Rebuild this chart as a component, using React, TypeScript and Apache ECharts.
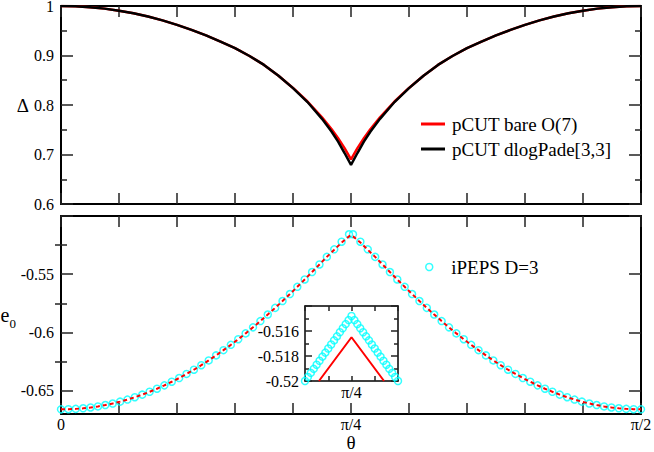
import React, { useEffect, useRef } from "react";
import * as echarts from "echarts";

const FONT = "'Liberation Serif', 'Times New Roman', Times, serif";

// ---------- Top panel: gap Δ(θ), read on 0..π/4 (degrees), symmetric about π/4
const gapThetaDeg = [
  0, 2.25, 4.5, 6.75, 9, 11.25, 13.5, 15.75, 18, 20.25, 22.5, 24.75, 27, 29.25, 31.5, 33.75, 36,
  38.25, 40.5, 42, 43, 44, 45,
];
const gapBareO7 = [
  1.0, 0.9994, 0.9976, 0.9947, 0.9905, 0.9852, 0.9787, 0.971, 0.9618, 0.9518, 0.9405, 0.928,
  0.915, 0.899, 0.881, 0.859, 0.8345, 0.807, 0.775, 0.751, 0.733, 0.713, 0.69,
];
const gapDlogPade = [
  1.0, 0.9994, 0.9976, 0.9947, 0.9905, 0.9852, 0.9787, 0.971, 0.9618, 0.9518, 0.9405, 0.928,
  0.915, 0.899, 0.881, 0.859, 0.834, 0.806, 0.772, 0.746, 0.726, 0.703, 0.679,
];

// ---------- Bottom panel: ground-state energy e0(θ), θ in rad on 0..π/4, symmetric about π/4
const e0Theta = [
  0, 0.02, 0.04, 0.06, 0.08, 0.1, 0.12, 0.14, 0.16, 0.18,
  0.2, 0.22, 0.24, 0.26, 0.28, 0.3, 0.32, 0.34, 0.36, 0.38,
  0.4, 0.42, 0.44, 0.46, 0.48, 0.5, 0.52, 0.54, 0.56, 0.58,
  0.6, 0.62, 0.64, 0.66, 0.68, 0.7, 0.72, 0.74, 0.76, 0.78,
];
const e0Ipeps = [
  -0.666, -0.6659, -0.6656, -0.6651, -0.6644, -0.6635, -0.6623, -0.661, -0.6594, -0.6576,
  -0.6556, -0.6534, -0.6509, -0.6483, -0.6454, -0.6423, -0.6391, -0.6356, -0.632, -0.6281,
  -0.624, -0.6197, -0.6152, -0.6106, -0.6058, -0.6008, -0.5956, -0.5902, -0.5846, -0.5789,
  -0.573, -0.567, -0.5608, -0.5545, -0.5481, -0.5416, -0.5351, -0.5286, -0.5221, -0.5157,
];
const e0Pcut = [
  -0.666, -0.6659, -0.6656, -0.6651, -0.6644, -0.6635, -0.6623, -0.661, -0.6594, -0.6576,
  -0.6556, -0.6534, -0.6509, -0.6483, -0.6454, -0.6423, -0.6391, -0.6356, -0.632, -0.6281,
  -0.624, -0.6197, -0.6152, -0.6106, -0.6058, -0.6008, -0.5956, -0.5902, -0.5846, -0.5789,
  -0.573, -0.567, -0.5608, -0.5545, -0.5481, -0.5416, -0.5351, -0.529, -0.5228, -0.5175,
];
const e0PcutCusp = -0.5165;

// ---------- Inset: zoom on the cusp, θ given as offset from π/4 (rad)
const insetOffset = [
  -0.02, -0.01875, -0.0175, -0.01625, -0.015, -0.01375, -0.0125, -0.01125, -0.01,
  -0.00875, -0.0075, -0.00625, -0.005, -0.00375, -0.0025, -0.00125, 0,
];
const insetIpeps = [
  -0.52, -0.51968, -0.51935, -0.51903, -0.5187, -0.51838, -0.51805, -0.51773, -0.5174,
  -0.51708, -0.51675, -0.51643, -0.5161, -0.51578, -0.51545, -0.51513, -0.5148,
];
const insetPcutOffset = [-0.014, 0, 0.014];
const insetPcut = [-0.52, -0.5165, -0.52];

// ---------- Tick labels
const thetaTickLabels: Record<number, string> = { 0: "0", 5: "π/4", 10: "π/2" };
const e0MajorTicks = [-0.65, -0.6, -0.55, -0.5];
const e0MinorTicks = [-0.625, -0.575, -0.525];
const e0LabelTicks = [-0.65, -0.6, -0.55];

const HALF_PI = Math.PI / 2;
const QUARTER_PI = Math.PI / 4;

function buildGap(values: number[]) {
  const left = gapThetaDeg.map((d, i) => [(d * Math.PI) / 180, values[i]]);
  const right: number[][] = [];
  for (let i = gapThetaDeg.length - 2; i >= 0; i--) {
    right.push([((90 - gapThetaDeg[i]) * Math.PI) / 180, values[i]]);
  }
  return left.concat(right);
}

function buildE0(values: number[], cusp?: number) {
  const left = e0Theta.map((t, i) => [t, values[i]]);
  const mid = cusp !== undefined ? [[QUARTER_PI, cusp]] : [];
  const right: number[][] = [];
  for (let i = e0Theta.length - 1; i >= 0; i--) right.push([HALF_PI - e0Theta[i], values[i]]);
  return left.concat(mid, right);
}

function buildInset() {
  const left = insetOffset.map((o, i) => [o, insetIpeps[i]]);
  const right: number[][] = [];
  for (let i = insetOffset.length - 2; i >= 0; i--) right.push([-insetOffset[i], insetIpeps[i]]);
  return left.concat(right);
}

const tickLine = { color: "#222", width: 1.5 };
const frame = { show: true, onZero: false, lineStyle: { color: "#000", width: 2 } };
const labelBase = { fontFamily: FONT, fontSize: 16, color: "#000" };

function thetaAxis(grid: number, pos: string, extra: any = {}) {
  return {
    type: "value",
    gridIndex: grid,
    position: pos,
    min: 0,
    max: HALF_PI,
    interval: Math.PI / 20,
    axisLine: frame,
    axisTick: { show: true, inside: true, length: 11, lineStyle: tickLine },
    axisLabel: { show: false },
    splitLine: { show: false },
    ...extra,
  };
}

function gapAxis(pos: string, extra: any = {}) {
  return {
    type: "value",
    gridIndex: 0,
    position: pos,
    min: 0.6,
    max: 1,
    interval: 0.1,
    axisLine: frame,
    axisTick: { show: true, inside: true, length: 12, lineStyle: tickLine },
    minorTick: { show: true, splitNumber: 2, length: 6, lineStyle: tickLine },
    axisLabel: { show: false },
    splitLine: { show: false },
    minorSplitLine: { show: false },
    ...extra,
  };
}

function e0Axis(pos: string, ticks: number[], len: number, extra: any = {}) {
  return {
    type: "value",
    gridIndex: 1,
    position: pos,
    min: -0.67,
    max: -0.5,
    axisLine: frame,
    axisTick: { show: true, inside: true, length: len, lineStyle: tickLine, customValues: ticks },
    axisLabel: { show: false },
    splitLine: { show: false },
    ...extra,
  };
}

function insetXAxis(pos: string, extra: any = {}) {
  return {
    type: "value",
    gridIndex: 2,
    position: pos,
    min: -0.02,
    max: 0.02,
    interval: 0.01,
    axisLine: { show: true, onZero: false, lineStyle: { color: "#000", width: 1.5 } },
    axisTick: { show: true, inside: true, length: 5, lineStyle: tickLine },
    axisLabel: { show: false },
    splitLine: { show: false },
    ...extra,
  };
}

function insetYAxis(pos: string, extra: any = {}) {
  return {
    type: "value",
    gridIndex: 2,
    position: pos,
    min: -0.52,
    max: -0.514,
    interval: 0.002,
    axisLine: { show: true, onZero: false, lineStyle: { color: "#000", width: 1.5 } },
    axisTick: { show: true, inside: true, length: 7, lineStyle: tickLine },
    minorTick: { show: true, splitNumber: 2, length: 4, lineStyle: tickLine },
    axisLabel: { show: false },
    splitLine: { show: false },
    minorSplitLine: { show: false },
    ...extra,
  };
}

export default function App() {
  const ref = useRef<HTMLDivElement>(null);

  useEffect(() => {
    if (!ref.current) return;
    const chart = echarts.init(ref.current, null, { renderer: "svg" });

    const option: any = {
      animation: false,
      backgroundColor: "#fff",
      textStyle: { fontFamily: FONT },
      grid: [
        { left: 61, right: 13, top: 6, height: 198, outerBoundsMode: "none", containLabel: false },
        { left: 61, right: 13, top: 216, height: 198, outerBoundsMode: "none", containLabel: false },
        { left: 305, width: 93, top: 306, height: 75, outerBoundsMode: "none", containLabel: false },
      ],
      legend: [
        {
          data: ["pCUT bare O(7)", "pCUT dlogPade[3,3]"],
          orient: "vertical",
          left: 416,
          top: 109,
          icon: "rect",
          itemWidth: 24,
          itemHeight: 3,
          itemGap: 5,
          selectedMode: false,
          textStyle: { fontFamily: FONT, fontSize: 19, color: "#000", lineHeight: 20, padding: [0, 0, 0, 2] },
        },
        {
          data: [
            {
              name: "iPEPS D=3",
              icon: "circle",
              itemStyle: { color: "transparent", borderColor: "#00ffff", borderWidth: 1.5 },
            },
          ],
          orient: "vertical",
          left: 420,
          top: 252,
          itemWidth: 14,
          itemHeight: 7,
          selectedMode: false,
          textStyle: { fontFamily: FONT, fontSize: 19, color: "#000", lineHeight: 20, padding: [0, 0, 0, 10] },
        },
      ],
      xAxis: [
        thetaAxis(0, "bottom"),
        thetaAxis(0, "top"),
        thetaAxis(1, "bottom", {
          axisLabel: {
            show: true,
            margin: 3,
            ...labelBase,
            lineHeight: 15,
            formatter: (v: number) => thetaTickLabels[Math.round(v / (Math.PI / 20))] ?? "",
          },
          name: "θ",
          nameLocation: "middle",
          nameGap: 20,
          nameMoveOverlap: false,
          nameTextStyle: { fontFamily: FONT, fontSize: 19, color: "#000", lineHeight: 16 },
        }),
        thetaAxis(1, "top"),
        insetXAxis("bottom", {
          axisLabel: {
            show: true,
            margin: 3,
            ...labelBase,
            formatter: (v: number) => (Math.abs(v) < 1e-9 ? "π/4" : ""),
          },
        }),
        insetXAxis("top"),
      ],
      yAxis: [
        gapAxis("left", {
          axisLabel: {
            show: true,
            margin: 7,
            ...labelBase,
            lineHeight: 12,
            formatter: (v: number) => String(parseFloat(v.toFixed(2))),
          },
          name: "Δ",
          nameLocation: "middle",
          nameRotate: 0,
          nameGap: 32,
          nameMoveOverlap: false,
          nameTextStyle: { fontFamily: FONT, fontSize: 19, color: "#000" },
        }),
        gapAxis("right"),
        e0Axis("left", e0MajorTicks, 12, {
          axisLabel: {
            show: true,
            margin: 7,
            ...labelBase,
            customValues: e0LabelTicks,
            formatter: (v: number) => String(parseFloat(v.toFixed(3))),
          },
          name: "{e|e}{s|0}",
          nameLocation: "middle",
          nameRotate: 0,
          nameGap: 45,
          nameMoveOverlap: false,
          nameTextStyle: {
            fontFamily: FONT,
            color: "#000",
            rich: {
              e: { fontFamily: FONT, fontSize: 20, lineHeight: 21, verticalAlign: "top", color: "#000" },
              s: { fontFamily: FONT, fontSize: 13, lineHeight: 13, padding: [12, 0, 0, 0], verticalAlign: "top", color: "#000" },
            },
          },
        }),
        e0Axis("left", e0MinorTicks, 6, { axisLine: { show: false } }),
        e0Axis("right", e0MajorTicks, 12),
        e0Axis("right", e0MinorTicks, 6, { axisLine: { show: false } }),
        insetYAxis("left", {
          axisLabel: {
            show: true,
            margin: 6,
            ...labelBase,
            formatter: (v: number) => (Math.abs(v + 0.514) < 1e-9 ? "" : String(parseFloat(v.toFixed(3)))),
          },
        }),
        insetYAxis("right"),
      ],
      series: [
        {
          name: "pCUT bare O(7)",
          type: "line",
          xAxisIndex: 0,
          yAxisIndex: 0,
          data: buildGap(gapBareO7),
          symbol: "none",
          color: "#ff0000",
          lineStyle: { color: "#ff0000", width: 2.5 },
        },
        {
          name: "pCUT dlogPade[3,3]",
          type: "line",
          xAxisIndex: 0,
          yAxisIndex: 0,
          data: buildGap(gapDlogPade),
          symbol: "none",
          color: "#000000",
          lineStyle: { color: "#000000", width: 2.5 },
        },
        {
          name: "iPEPS D=3",
          type: "scatter",
          xAxisIndex: 2,
          yAxisIndex: 2,
          data: buildE0(e0Ipeps),
          symbol: "circle",
          symbolSize: 7,
          clip: false,
          itemStyle: { color: "transparent", borderColor: "#00ffff", borderWidth: 1.5 },
        },
        {
          name: "pCUT e0",
          type: "line",
          xAxisIndex: 2,
          yAxisIndex: 2,
          data: buildE0(e0Pcut, e0PcutCusp),
          symbol: "none",
          color: "#ff0000",
          lineStyle: { color: "#ff0000", width: 2, type: [4, 3] },
        },
        {
          name: "iPEPS inset",
          type: "scatter",
          xAxisIndex: 4,
          yAxisIndex: 6,
          data: buildInset(),
          symbol: "circle",
          symbolSize: 7,
          clip: false,
          itemStyle: { color: "transparent", borderColor: "#00ffff", borderWidth: 1.5 },
        },
        {
          name: "pCUT inset",
          type: "line",
          xAxisIndex: 4,
          yAxisIndex: 6,
          data: insetPcutOffset.map((o, i) => [o, insetPcut[i]]),
          symbol: "none",
          color: "#ff0000",
          lineStyle: { color: "#ff0000", width: 2 },
        },
      ],
    };

    chart.setOption(option);
    return () => chart.dispose();
  }, []);

  return (
    <div
      ref={ref}
      style={{ position: "fixed", left: 0, top: 0, width: 654, height: 452, background: "#fff" }}
    />
  );
}
